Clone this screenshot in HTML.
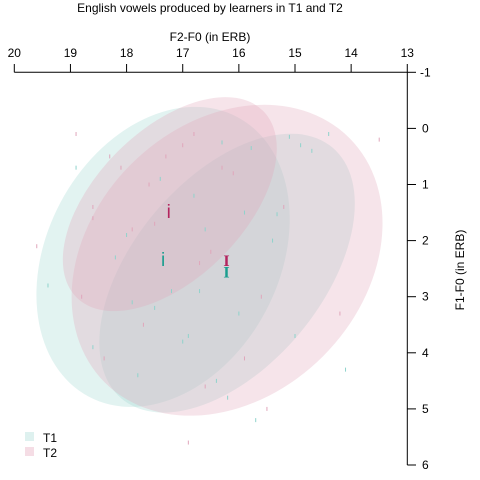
<!DOCTYPE html>
<html><head><meta charset="utf-8">
<style>
html,body{margin:0;padding:0;background:#fff;}
svg{display:block;font-family:"Liberation Sans",Arial,sans-serif;}
</style></head>
<body>
<svg id="chart" width="480" height="480" viewBox="0 0 480 480">
<text x="210" y="12" font-size="12" text-anchor="middle" fill="#000">English vowels produced by learners in T1 and T2</text>
<text x="210" y="41" font-size="12" text-anchor="middle" fill="#000">F2-F0 (in ERB)</text>
<text transform="translate(464,270) rotate(-90)" font-size="12" text-anchor="middle" fill="#000">F1-F0 (in ERB)</text>
<g id="ellipses"></g>
<g id="points"></g>
<g id="means"></g>
<g id="axes"></g>
<g>
<rect x="25" y="432" width="9" height="9" fill="rgb(160,215,210)" fill-opacity="0.35"/>
<text x="43" y="442" font-size="12" fill="#000">T1</text>
<rect x="25" y="447" width="9" height="9" fill="rgb(230,170,190)" fill-opacity="0.4"/>
<text x="43" y="457" font-size="12" fill="#000">T2</text>
</g>
</svg>
<script>
// data arrays
const xTicks = [20,19,18,17,16,15,14,13];
const yTicks = [-1,0,1,2,3,4,5,6];
const ellipseGroups = ["T1","T1","T2","T2"];
const ellipseVowels = ["i","I","i","I"];
const ellipseCx = [17.35,16.21,17.23,16.21];
const ellipseCy = [2.29,2.58,1.35,2.35];
const ellipseA = [2.82,2.92,2.35,3.08];
const ellipseB = [2.07,1.68,1.32,2.42];
const ellipseAngle = [62,50,45,45];
const meanX = [17.35,16.22,17.25,16.22];
const meanY = [2.33,2.55,1.47,2.35];
const teal_px = [15.32,15.78,14.7,14.9,15.1,17.4,16.6,16.9,18.6,19.4,17.8,16.2,18.2,16.0,15.0,14.1,16.4,17.0,17.5,15.4,16.8,18.9,17.2,16.3,15.7,14.4,17.9,16.7,15.9,18.0];
const teal_py = [1.53,0.35,0.4,0.3,0.15,0.9,1.8,3.7,3.9,2.8,4.4,4.8,2.3,3.3,3.7,4.3,4.5,3.8,3.2,2.0,1.2,0.7,2.9,0.25,5.2,0.1,3.1,2.9,1.5,1.9];
const pink_px = [18.9,16.8,17.3,18.1,16.3,15.2,16.5,17.9,18.6,19.6,15.6,14.2,13.5,16.1,17.6,18.3,16.7,15.9,18.8,17.7,16.6,15.5,16.9,18.4,17.5,18.6,17.0];
const pink_py = [0.1,0.1,0.5,0.7,0.7,1.4,2.2,1.8,1.4,2.1,3.0,3.3,0.2,0.8,1.0,0.5,2.4,4.1,3.0,3.5,4.6,5.0,5.6,4.1,1.7,1.6,0.3];
// scales
const X0=14.3, XU=56.14, Y0=72.3, YU=56.1;
const sx = v => X0 + (20 - v) * XU;
const sy = v => Y0 + (v + 1) * YU;
const NS="http://www.w3.org/2000/svg";
const el=(t,a)=>{const e=document.createElementNS(NS,t);for(const k in a)e.setAttribute(k,a[k]);return e;};

const eg=document.getElementById('ellipses');
for(let i=0;i<ellipseCx.length;i++){
  const t1=ellipseGroups[i]==="T1";
  const cx=sx(ellipseCx[i]), cy=sy(ellipseCy[i]);
  const e=el('ellipse',{cx:cx,cy:cy,rx:ellipseA[i]*XU,ry:ellipseB[i]*YU,
    transform:`rotate(${-ellipseAngle[i]} ${cx} ${cy})`,
    fill:t1?'rgb(160,215,210)':'rgb(225,165,185)','fill-opacity':0.3});
  
  
  eg.appendChild(e);
}
const pg=document.getElementById('points');
for(let i=0;i<teal_px.length;i++){
  const p=el('line',{x1:sx(teal_px[i]),x2:sx(teal_px[i]),y1:sy(teal_py[i])-2,y2:sy(teal_py[i])+2,stroke:'#8fd3cc','stroke-width':1});
  
  
  pg.appendChild(p);
}
for(let i=0;i<pink_px.length;i++){
  const p=el('line',{x1:sx(pink_px[i]),x2:sx(pink_px[i]),y1:sy(pink_py[i])-2,y2:sy(pink_py[i])+2,stroke:'#e0a6bb','stroke-width':1});
  
  
  pg.appendChild(p);
}
const mg=document.getElementById('means');
for(let i=0;i<meanX.length;i++){
  const t1=ellipseGroups[i]==="T1";
  const m=el('text',{x:sx(meanX[i]),y:sy(meanY[i])+7,'font-size':19,'text-anchor':'middle',
    fill:t1?'#1a9e8f':'#b3245e'});
  
  
  m.textContent=ellipseVowels[i];
  if(ellipseVowels[i]==="I"){m.setAttribute('font-family','"Liberation Serif",serif');m.setAttribute('font-size',16);m.setAttribute('font-weight','bold');m.setAttribute('y',sy(meanY[i])+6);}
  mg.appendChild(m);
}
const ag=document.getElementById('axes');
const xa=el('line',{x1:sx(20),x2:sx(13),y1:72.3,y2:72.3,stroke:'#000'});


ag.appendChild(xa);
xTicks.forEach(v=>{
  const t=el('line',{x1:sx(v),x2:sx(v),y1:72.3,y2:64,stroke:'#000'});
  
  
  ag.appendChild(t);
  const l=el('text',{x:sx(v),y:57,'font-size':12,'text-anchor':'middle',fill:'#000'});
  
  
  l.textContent=v; ag.appendChild(l);
});
const ya=el('line',{x1:407.3,x2:407.3,y1:sy(-1),y2:sy(6),stroke:'#000'});


ag.appendChild(ya);
yTicks.forEach(v=>{
  const t=el('line',{x1:407.3,x2:416,y1:sy(v),y2:sy(v),stroke:'#000'});
  
  
  ag.appendChild(t);
  const l=el('text',{x:v<0?420:422,y:sy(v)+4,'font-size':12,fill:'#000'});
  
  
  l.textContent=v; ag.appendChild(l);
});
</script>
</body></html>
